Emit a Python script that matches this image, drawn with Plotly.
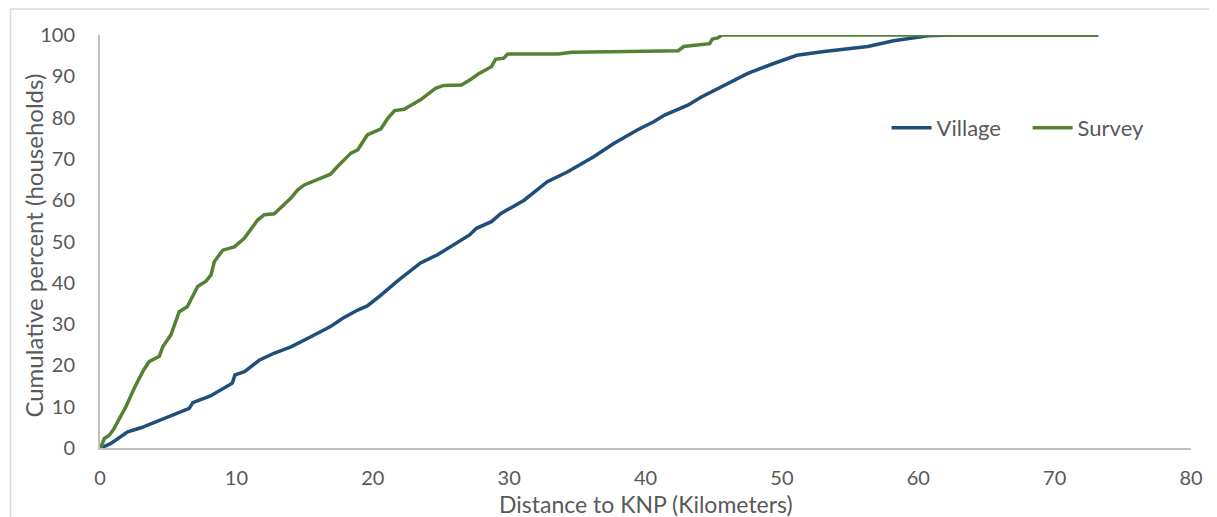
import plotly.graph_objects as go

# Survey households: distance (km) vs cumulative percent
survey_km = [0, 0.07, 0.32, 0.68, 1.0, 1.54, 1.9, 2.5, 3.13, 3.6, 4.35, 4.6, 5.2, 5.81, 6.4,
             7.16, 7.77, 8.14, 8.38, 9.0, 9.85, 10.58, 11.56, 12.05, 12.78, 14.0, 14.5, 14.98,
             16.2, 16.9, 17.4, 18.4, 18.9, 19.6, 20.6, 21.1, 21.6, 22.3, 23.5, 24.0, 24.6, 25.2,
             26.5, 27.2, 27.8, 28.7, 29.0, 29.6, 29.9, 33.6, 34.6, 38.7, 42.4, 42.8, 43.8, 44.7,
             44.9, 45.3, 45.6, 73.2]
survey_pct = [0, 0.3, 2.3, 3.1, 4.5, 7.6, 10, 14.4, 18.5, 20.9, 22.2, 24.5, 27.4, 33, 34.2,
              39.1, 40.4, 41.9, 45.1, 47.9, 48.7, 50.8, 55.2, 56.5, 56.7, 60.5, 62.5, 63.7,
              65.3, 66.3, 68.1, 71.4, 72.2, 75.8, 77.3, 79.8, 81.7, 82, 84.3, 85.5, 87.1, 87.8,
              87.9, 89.3, 90.7, 92.3, 94.1, 94.4, 95.4, 95.4, 95.8, 96, 96.2, 97.2, 97.6, 97.9,
              99, 99.3, 100, 100]

# Village households
village_km = [0, 0.07, 0.8, 2.03, 3.0, 4.2, 5.2, 6.55, 6.8, 8.1, 9.7, 9.9, 10.6, 11.7, 12.8,
              14.0, 15.5, 16.9, 17.8, 18.9, 19.6, 20.6, 21.8, 23.5, 24.75, 27.1, 27.6, 28.7,
              29.4, 31.1, 32.8, 34.3, 36.2, 37.7, 39.4, 40.6, 41.4, 43.1, 44.1, 46.0, 47.5,
              49.4, 51.1, 53.1, 56.3, 58.2, 60.7, 62.4, 73.2]
village_pct = [0, 0, 1.1, 3.9, 4.9, 6.5, 8.0, 9.6, 11, 12.6, 15.7, 17.7, 18.5, 21.3, 23,
               24.5, 27, 29.4, 31.4, 33.4, 34.4, 37, 40.4, 44.8, 46.8, 51.6, 53.2, 54.8,
               56.8, 60, 64.5, 66.9, 70.5, 73.8, 77, 79, 80.6, 83, 85, 88.3, 90.7,
               93.1, 95.1, 96, 97.2, 98.6, 99.8, 100, 100]

x_ticks = [0, 10, 20, 30, 40, 50, 60, 70, 80]
y_ticks = [0, 10, 20, 30, 40, 50, 60, 70, 80, 90, 100]
x_title = "Distance to KNP (Kilometers)"
y_title = "Cumulative percent (households)"

FONT = "Lato"
GREY = "#595959"

fig = go.Figure()
fig.add_trace(go.Scatter(x=village_km, y=village_pct, mode="lines", name="Village",
                         line=dict(color="#1f4e79", width=3.5)))
fig.add_trace(go.Scatter(x=survey_km, y=survey_pct, mode="lines", name="Survey",
                         line=dict(color="#548235", width=3.5)))

fig.update_layout(
    width=1217, height=517,
    margin=dict(l=92, r=34, t=27, b=77, autoexpand=False),
    paper_bgcolor="white", plot_bgcolor="white",
    font=dict(family=FONT, size=20, color=GREY),
    showlegend=True,
    legend=dict(orientation="h", x=0.721, y=0.775, xanchor="left", yanchor="middle",
                font=dict(family=FONT, size=22, color=GREY), itemwidth=40,
                entrywidth=86, entrywidthmode="pixels",
                bgcolor="rgba(0,0,0,0)"),
    xaxis=dict(range=[0, 80], tickvals=x_ticks, showgrid=False, zeroline=False,
               showline=True, linecolor="#bfbfbf", linewidth=2, ticks="",
               ticklabelstandoff=11, automargin=False),
    yaxis=dict(range=[0, 100], tickvals=y_ticks, showgrid=False, zeroline=False,
               showline=True, linecolor="#bfbfbf", linewidth=2, ticks="",
               ticklabelstandoff=19, automargin=False),
)

fig.add_annotation(text=x_title, xref="paper", yref="paper", x=0.5, y=-0.135,
                   xanchor="center", yanchor="middle", showarrow=False,
                   font=dict(family=FONT, size=23, color=GREY))
fig.add_annotation(text=y_title, xref="paper", yref="paper", x=-0.0605, y=0.49,
                   xanchor="center", yanchor="middle", showarrow=False, textangle=-90,
                   font=dict(family=FONT, size=24, color=GREY))

fig.add_shape(type="rect", xref="paper", yref="paper",
              x0=-0.082, x1=1.2, y0=-0.4, y1=1.063,
              line=dict(color="#d9d9d9", width=1.5), layer="below")

fig.write_html("out.html")
